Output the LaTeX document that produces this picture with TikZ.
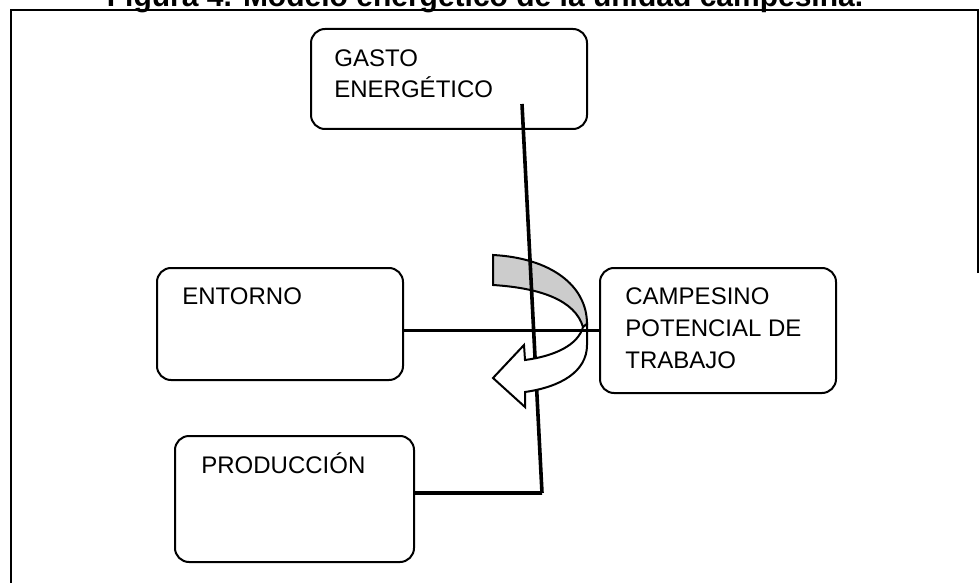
\documentclass[tikz,border=0pt]{standalone}
\usepackage{fontspec}
\setmainfont{Liberation Sans}
\usepackage{tikz}

\begin{document}
\begin{tikzpicture}[x=0.5pt,y=-0.5pt,
caja/.style={draw, rounded corners=7pt, line width=1pt, inner sep=0pt},
texto/.style={anchor=base west, inner sep=0pt, align=left, font=\fontsize{12}{16}\selectfont},
grueso/.style={line width=1.8pt}]
\useasboundingbox (0,0) rectangle (980,583);
\node (titulo) at (485,7) [anchor=base, inner sep=0pt, font=\fontsize{15}{18}\selectfont\bfseries] {Figura 4. Modelo energético de la unidad campesina.};
\draw[line width=0.9pt] (978,273) -- (978,10) -- (11,10) -- (11,583);
\node (gasto) at (449,79) [caja, minimum width=138pt, minimum height=50pt] {};
\node (entorno) at (280,324) [caja, minimum width=123pt, minimum height=56pt] {};
\node (campesino) at (718,330.5) [caja, minimum width=118pt, minimum height=62.5pt] {};
\node (produccion) at (294.5,499) [caja, minimum width=119.5pt, minimum height=63pt] {};
% la base de un texto de varias lineas es la ultima linea
\node (gastotxt) at ([shift={(24,70)}]gasto.north west) [texto] {GASTO\\ENERGÉTICO};
\node (entornotxt) at ([shift={(26,37)}]entorno.north west) [texto] {ENTORNO};
\node (campesinotxt) at ([shift={(26,101)}]campesino.north west) [texto] {CAMPESINO\\POTENCIAL DE\\TRABAJO};
\node (producciontxt) at ([shift={(27,38)}]produccion.north west) [texto] {PRODUCCIÓN};
\coordinate (gastopunto) at (522,104);
\coordinate (esquina) at (542,493);
% banda gris de la flecha curva
\draw[line width=1pt, fill=gray!40] (493,255) .. controls (550,258) and (587,285) .. (587,324)
  -- (583,327) .. controls (575,300) and (540,288) .. (493,285) -- cycle;
\draw[grueso]
(gastopunto) to (esquina)
(esquina) to (produccion.east |- esquina);
% parte blanca con la punta
\draw[line width=1pt, fill=white] (587,324) -- (587,345) .. controls (587,372) and (560,387) .. (525,392)
  -- (525,407) -- (493,378) -- (524,345) -- (525,360) .. controls (555,356) and (578,345) .. (583,327) -- cycle;
\draw[grueso]
(entorno.east |- campesino.west) to (campesino.west);
\end{tikzpicture}
\end{document}
